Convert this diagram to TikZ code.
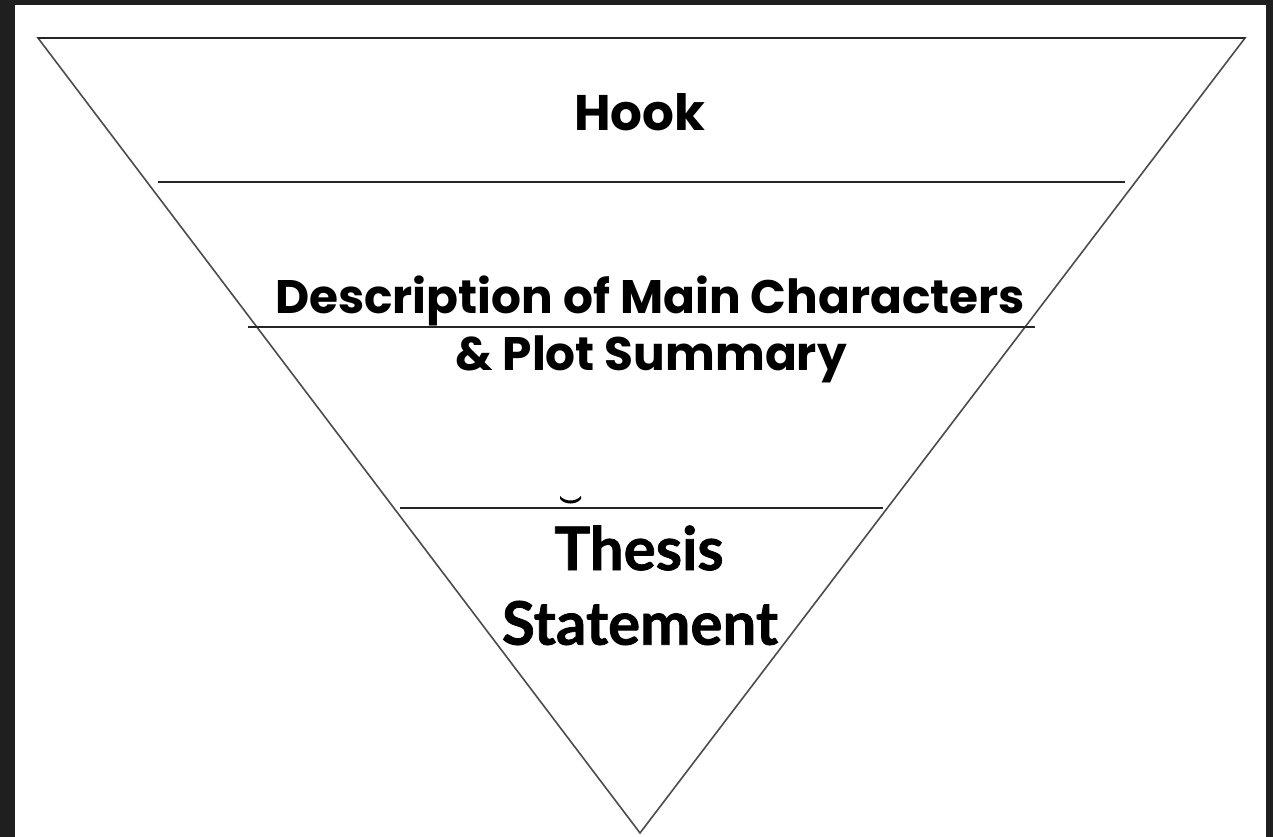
\documentclass[tikz,border=0pt]{standalone}
\usepackage{fontspec}
\newfontfamily\hookfont{Poppins}
\newfontfamily\gillfont{Lato}[BoldFeatures={FakeBold=1.2}]
\begin{document}
\begin{tikzpicture}[x=1pt,y=-1pt,
  edge/.style={draw=black!70, line width=1.6pt},
  band/.style={draw=black!85, line width=1.8pt},
  title/.style={font=\hookfont\bfseries\fontsize{47}{55}\selectfont, text=black, inner sep=0pt, align=center},
  thesis/.style={font=\gillfont\bfseries\fontsize{60}{68}\selectfont, text=black, inner sep=0pt, align=center}]
\useasboundingbox (0,0) rectangle (1273,837);
\fill[black!88] (0,0) rectangle (1273,837);
\fill[white] (15,5) rectangle (1266,837);
% triangle
\coordinate (tl) at (38,38);
\coordinate (tr) at (1245,38);
\coordinate (ap) at (640,833);
\draw[edge, line join=miter] (tr) -- (tl) -- (ap) -- cycle;
\draw[band] (tl) -- (tr);
% bands
\coordinate (a1) at (158,182); \coordinate (b1) at (1125,182);
\coordinate (a2) at (248,327); \coordinate (b2) at (1035,327);
\coordinate (a3) at (400,508); \coordinate (b3) at (883,508);
\draw[band] (a1) -- (b1);
\draw[band] (a2) -- (b2);
\draw[band] (a3) -- (b3);
% texts
\node[title, font=\hookfont\bfseries\fontsize{50}{58}\selectfont] (hook) at (640,112) {Hook};
\node[title] (desc) at (650,301) {Description of Main Characters};
\node[title] (plot) at (651,359) {\& Plot Summary};
\node[thesis] (th) at (639,548) {Thesis};
\node[thesis] (st) at (640,623) {Statement};
% descender remnant
\fill[black] (560,496) .. controls (565,502) and (576,502) .. (581,496) -- (581,499) .. controls (576,505) and (565,505) .. (560,499) -- cycle;
\end{tikzpicture}
\end{document}
